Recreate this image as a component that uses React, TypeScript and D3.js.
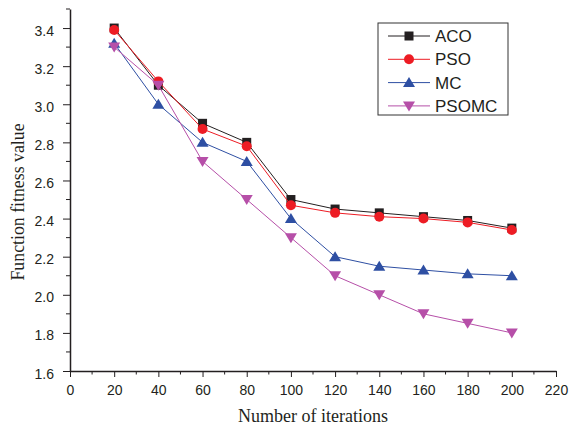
import React, { useEffect, useRef } from "react";
import * as d3 from "d3";

const iterations = [20, 40, 60, 80, 100, 120, 140, 160, 180, 200];
const aco = [3.4, 3.1, 2.9, 2.8, 2.5, 2.45, 2.43, 2.41, 2.39, 2.35];
const pso = [3.39, 3.12, 2.87, 2.78, 2.47, 2.43, 2.41, 2.4, 2.38, 2.34];
const mc = [3.32, 3.0, 2.8, 2.7, 2.4, 2.2, 2.15, 2.13, 2.11, 2.1];
const psomc = [3.3, 3.1, 2.7, 2.5, 2.3, 2.1, 2.0, 1.9, 1.85, 1.8];

const seriesNames = ["ACO", "PSO", "MC", "PSOMC"];
const xTicks = [0, 20, 40, 60, 80, 100, 120, 140, 160, 180, 200, 220];
const yTicks = [1.6, 1.8, 2.0, 2.2, 2.4, 2.6, 2.8, 3.0, 3.2, 3.4];

export default function App() {
  const ref = useRef<SVGSVGElement>(null);

  useEffect(() => {
    const width = 570;
    const height = 425;
    const svg = d3.select(ref.current);
    svg.selectAll("*").remove();

    const x = d3.scaleLinear().domain([0, 220]).range([70, 556]);
    const y = d3.scaleLinear().domain([1.6, 3.5]).range([371, 9]);

    const colors: Record<string, string> = {
      ACO: "#231f20",
      PSO: "#ed1c24",
      MC: "#2e4fa3",
      PSOMC: "#b64fa8",
    };
    const shapes: Record<string, string> = {
      ACO: "square",
      PSO: "circle",
      MC: "up",
      PSOMC: "down",
    };
    const values: Record<string, number[]> = { ACO: aco, PSO: pso, MC: mc, PSOMC: psomc };

    const font = "Arial, 'Liberation Sans', sans-serif";
    const serif = "'Times New Roman', 'Liberation Serif', serif";

    // axes
    const xAxis = svg.append("g").attr("transform", `translate(0,${y(1.6)})`);
    xAxis.call(
      d3.axisBottom(x).tickValues(xTicks).tickSize(6).tickSizeOuter(0).tickPadding(8)
    );
    const xMinor = d3.range(10, 220, 20);
    xAxis.selectAll(".minor").data(xMinor).enter().append("line")
      .attr("x1", (d) => x(d)).attr("x2", (d) => x(d))
      .attr("y1", 0).attr("y2", 3.5).attr("stroke", "#231f20");

    const yAxis = svg.append("g").attr("transform", `translate(${x(0)},0)`);
    yAxis.call(
      d3.axisLeft(y).tickValues(yTicks).tickFormat(d3.format(".1f")).tickSize(7).tickSizeOuter(0).tickPadding(9)
    );
    const yMinor = [1.7, 1.9, 2.1, 2.3, 2.5, 2.7, 2.9, 3.1, 3.3, 3.5];
    yAxis.selectAll(".minor").data(yMinor).enter().append("line")
      .attr("y1", (d) => y(d)).attr("y2", (d) => y(d))
      .attr("x1", 0).attr("x2", -4).attr("stroke", "#231f20");
    yAxis.selectAll(".tick text").attr("dy", "0.5em");

    [xAxis, yAxis].forEach((a) => {
      a.select(".domain").attr("stroke", "#231f20").attr("stroke-width", 1.5);
      a.selectAll(".tick line").attr("stroke", "#231f20");
      a.selectAll("text")
        .style("font-family", font)
        .style("font-size", "14px")
        .attr("fill", "#231f20");
    });

    svg.append("text")
      .attr("x", 313)
      .attr("y", 422)
      .attr("text-anchor", "middle")
      .style("font-family", serif)
      .style("font-size", "18px")
      .attr("fill", "#231f20")
      .text("Number of iterations");

    svg.append("text")
      .attr("transform", `translate(24,202) rotate(-90)`)
      .attr("text-anchor", "middle")
      .style("font-family", serif)
      .style("font-size", "17.8px")
      .attr("fill", "#231f20")
      .text("Function fitness value");

    const drawMarker = (g: any, shape: string, cx: number, cy: number, color: string) => {
      if (shape === "square") {
        g.append("rect").attr("x", cx - 4.5).attr("y", cy - 4.5).attr("width", 9).attr("height", 9).attr("fill", color);
      } else if (shape === "circle") {
        g.append("circle").attr("cx", cx).attr("cy", cy).attr("r", 5).attr("fill", color);
      } else if (shape === "up") {
        g.append("path").attr("d", `M${cx},${cy - 5.5}L${cx + 6},${cy + 4.5}L${cx - 6},${cy + 4.5}Z`).attr("fill", color);
      } else {
        g.append("path").attr("d", `M${cx},${cy + 5.5}L${cx + 6},${cy - 4.5}L${cx - 6},${cy - 4.5}Z`).attr("fill", color);
      }
    };

    const line = d3.line<number>()
      .x((_, i) => x(iterations[i]))
      .y((d) => y(d));

    seriesNames.forEach((name) => {
      const g = svg.append("g");
      g.append("path")
        .attr("d", line(values[name]))
        .attr("fill", "none")
        .attr("stroke", colors[name])
        .attr("stroke-width", 1);
      values[name].forEach((v, i) => {
        drawMarker(g, shapes[name], x(iterations[i]), y(v), colors[name]);
      });
    });

    // legend
    const lg = svg.append("g");
    lg.append("rect")
      .attr("x", 378).attr("y", 23).attr("width", 130).attr("height", 92)
      .attr("fill", "white").attr("stroke", "#333").attr("stroke-width", 1);
    seriesNames.forEach((name, i) => {
      const cy = 36 + i * 23.3;
      lg.append("line")
        .attr("x1", 388).attr("x2", 430).attr("y1", cy).attr("y2", cy)
        .attr("stroke", colors[name]).attr("stroke-width", 1);
      drawMarker(lg, shapes[name], 409, cy, colors[name]);
      lg.append("text")
        .attr("x", 435).attr("y", cy + 6)
        .style("font-family", font)
        .style("font-size", "17px")
        .attr("fill", "#231f20")
        .text(name);
    });

    svg.attr("width", width).attr("height", height);
  }, []);

  return (
    <svg
      ref={ref}
      width={570}
      height={425}
      style={{ position: "absolute", left: 0, top: 0, background: "white" }}
    />
  );
}
